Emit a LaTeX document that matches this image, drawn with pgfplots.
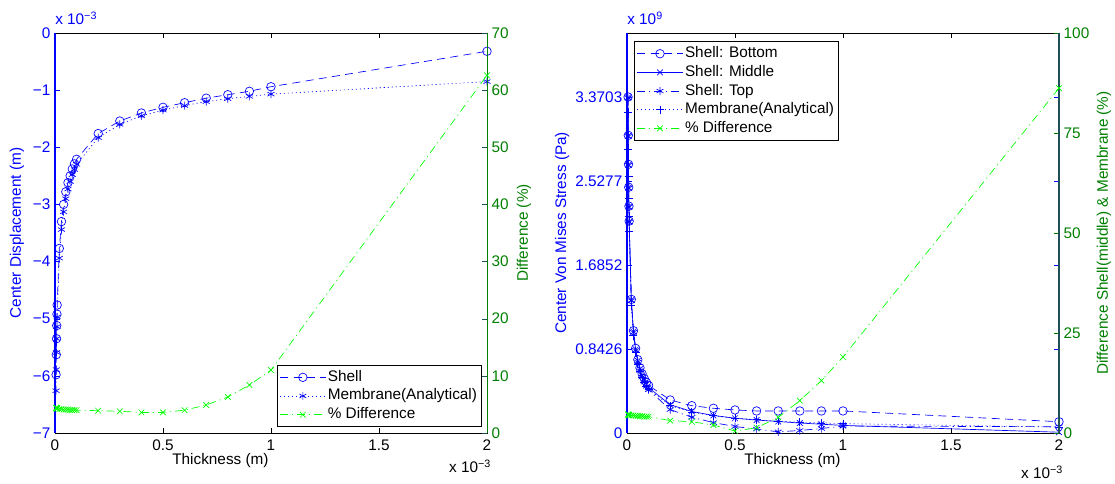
\documentclass[border=0pt]{standalone}
\usepackage{fontspec}
\setmainfont{Liberation Sans}
\usepackage{pgfplots}
\pgfplotsset{compat=1.18}
\definecolor{mblue}{rgb}{0,0,1}
\definecolor{mgreen}{rgb}{0,1,0}
\definecolor{dgreen}{rgb}{0,0.5,0}
\definecolor{tealax}{RGB}{30,80,90}
\tikzset{
  mdashed/.style={dash pattern=on 6pt off 4pt},
  mdotted/.style={dash pattern=on 0.8pt off 2.2pt},
  mdashdot/.style={dash pattern=on 6pt off 3pt on 0.8pt off 3pt},
}
\newcommand{\mfont}{\fontsize{11.5}{13.8}\selectfont}
\pgfplotsset{
  mstyle/.style={
    scale only axis, width=324pt, height=300pt,
    clip=false, scaled ticks=false,
    tick align=inside, major tick length=4pt,
    xmin=0, xmax=2,
    ticklabel style={font=\mfont},
    xticklabel style={yshift=-1.5pt},
    label style={font=\mfont},
    axis line style={-},
    every axis plot/.append style={line width=0.5pt},
  },
  mleg/.style={
    legend cell align=left,
    legend style={font=\mfont, draw=black, fill=white, line width=0.5pt,
      row sep=0pt, inner sep=2pt,
      nodes={inner sep=1.5pt, text height=8.5pt, text depth=2.5pt}},
    legend image code/.code={\draw[mark repeat=2,mark phase=2,##1] plot coordinates {(0pt,0pt) (17pt,0pt) (34pt,0pt)};},
  },
}
\begin{document}
\begin{tikzpicture}
\path[use as bounding box] (-41.25pt,-38.25pt) rectangle (795pt,324.75pt);

% ================= LEFT PANEL =================
\begin{axis}[mstyle, at={(0pt,0pt)}, anchor=south west,
  ymin=-7, ymax=0,
  ytick={-7,-6,-5,-4,-3,-2,-1,0},
  yticklabels={−7,−6,−5,−4,−3,−2,−1,0},
  xtick={0,0.5,1,1.5,2}, xticklabels={0,0.5,1,1.5,2},
  yticklabel style={text=mblue},
  y tick style={mblue}, x tick style={black},
  ylabel={Center Displacement (m)},
  ylabel style={text=mblue, at={(axis description cs:-0.088,0.5)}, anchor=center},
  xlabel={Thickness (m)},
  xlabel style={at={(axis description cs:0.383,-0.07)}, anchor=center},
]
\addplot[mblue, mdashed, mark=o, mark size=3.2pt, mark options={solid}] coordinates {
(0.005,-5.98) (0.006,-5.63) (0.007,-5.35) (0.008,-5.12) (0.009,-4.92) (0.01,-4.76)
(0.02,-3.77) (0.03,-3.30) (0.04,-3.00) (0.05,-2.78) (0.06,-2.62) (0.07,-2.50)
(0.08,-2.38) (0.09,-2.29) (0.1,-2.21) (0.2,-1.76) (0.3,-1.54) (0.4,-1.40)
(0.5,-1.30) (0.6,-1.22) (0.7,-1.14) (0.8,-1.08) (0.9,-1.02) (1.0,-0.94) (2.0,-0.32)};
\addplot[mblue, mdotted, mark=asterisk, mark size=3pt, mark options={solid}] coordinates {
(0.005,-6.26) (0.006,-5.89) (0.007,-5.59) (0.008,-5.35) (0.009,-5.14) (0.01,-4.97)
(0.02,-3.94) (0.03,-3.44) (0.04,-3.13) (0.05,-2.90) (0.06,-2.73) (0.07,-2.60)
(0.08,-2.48) (0.09,-2.39) (0.1,-2.30) (0.2,-1.83) (0.3,-1.60) (0.4,-1.45)
(0.5,-1.35) (0.6,-1.27) (0.7,-1.20) (0.8,-1.15) (0.9,-1.11) (1.0,-1.07) (2.0,-0.85)};
\draw[mblue, line width=0.8pt] (rel axis cs:0,0) -- (rel axis cs:0,1);
\node[anchor=base west, font=\mfont, text=mblue, inner sep=0pt] at (axis description cs:0,1.02) {x 10\textsuperscript{−3}};
\node[anchor=base east, font=\mfont, inner sep=0pt] at (axis description cs:1.01,-0.1) {x 10\textsuperscript{−3}};
\end{axis}

\begin{axis}[mstyle, mleg, at={(0pt,0pt)}, anchor=south west,
  axis x line=none, axis y line*=right,
  every outer y axis line/.append style={dgreen, line width=0.6pt, -},
  ymin=0, ymax=70,
  ytick={0,10,20,30,40,50,60,70},
  yticklabels={0,10,20,30,40,50,60,70},
  yticklabel style={text=dgreen},
  y tick style={tealax},
  ylabel={Difference (\%)},
  ylabel style={text=dgreen, at={(axis description cs:1.0856,0.5)}, anchor=center},
  legend style={at={(0.9884,0.015)}, anchor=south east},
]
\addlegendimage{mblue, mdashed, mark=o, mark size=3.2pt, mark options={solid}}
\addlegendentry{Shell}
\addlegendimage{mblue, mdotted, mark=asterisk, mark size=3pt, mark options={solid}}
\addlegendentry{Membrane(Analytical)}
\addplot[mgreen, mdashdot, mark=x, mark size=3pt, mark options={solid}] coordinates {
(0.005,4.4) (0.006,4.4) (0.007,4.3) (0.008,4.3) (0.009,4.3) (0.01,4.3)
(0.02,4.2) (0.03,4.2) (0.04,4.1) (0.05,4.1) (0.06,4.1) (0.07,4.0)
(0.08,4.0) (0.09,4.0) (0.1,4.0) (0.2,3.9) (0.3,3.8) (0.4,3.6)
(0.5,3.6) (0.6,4.0) (0.7,4.9) (0.8,6.3) (0.9,8.4) (1.0,11.0) (2.0,62.6)};
\addlegendentry{\% Difference}
\end{axis}

% ================= RIGHT PANEL =================
\begin{axis}[mstyle, at={(429pt,0pt)}, anchor=south west,
  ymin=0, ymax=4.012,
  ytick={0,0.8426,1.6852,2.5277,3.3703},
  yticklabels={0,0.8426,1.6852,2.5277,3.3703},
  xtick={0,0.5,1,1.5,2}, xticklabels={0,0.5,1,1.5,2},
  yticklabel style={text=mblue},
  y tick style={mblue}, x tick style={black},
  ylabel={Center Von Mises Stress (Pa)},
  ylabel style={text=mblue, at={(axis description cs:-0.150,0.5)}, anchor=center},
  xlabel={Thickness (m)},
  xlabel style={at={(axis description cs:0.383,-0.07)}, anchor=center},
]
\addplot[mblue, mdashed, mark=o, mark size=3.2pt, mark options={solid}] coordinates {
(0.005,3.3703) (0.006,2.985) (0.007,2.695) (0.008,2.465) (0.009,2.275) (0.01,2.125)
(0.02,1.340) (0.03,1.026) (0.04,0.849) (0.05,0.735) (0.06,0.654) (0.07,0.593)
(0.08,0.546) (0.09,0.508) (0.1,0.477) (0.2,0.331) (0.3,0.274) (0.4,0.248)
(0.5,0.231) (0.6,0.221) (0.7,0.221) (0.8,0.221) (0.9,0.221) (1.0,0.221) (2.0,0.113)};
\addplot[mblue, solid, mark=x, mark size=3pt] coordinates {
(0.005,3.366) (0.006,2.980) (0.007,2.690) (0.008,2.460) (0.009,2.270) (0.01,2.120)
(0.02,1.334) (0.03,1.018) (0.04,0.839) (0.05,0.723) (0.06,0.640) (0.07,0.577)
(0.08,0.528) (0.09,0.488) (0.1,0.455) (0.2,0.283) (0.3,0.216) (0.4,0.176)
(0.5,0.148) (0.6,0.130) (0.7,0.115) (0.8,0.100) (0.9,0.088) (1.0,0.076) (2.0,0.008)};
\addplot[mblue, mdashdot, mark=asterisk, mark size=3pt, mark options={solid}] coordinates {
(0.005,3.362) (0.006,2.975) (0.007,2.685) (0.008,2.455) (0.009,2.265) (0.01,2.115)
(0.02,1.328) (0.03,1.010) (0.04,0.829) (0.05,0.711) (0.06,0.626) (0.07,0.561)
(0.08,0.510) (0.09,0.468) (0.1,0.433) (0.2,0.235) (0.3,0.158) (0.4,0.104)
(0.5,0.065) (0.6,0.039) (0.7,0.012) (0.8,0.025) (0.9,0.045) (1.0,0.069) (2.0,0.063)};
\addplot[mblue, mdotted, mark=+, mark size=3pt, mark options={solid}] coordinates {
(0.005,3.218) (0.006,2.850) (0.007,2.572) (0.008,2.353) (0.009,2.175) (0.01,2.027)
(0.02,1.277) (0.03,0.975) (0.04,0.804) (0.05,0.693) (0.06,0.614) (0.07,0.554)
(0.08,0.507) (0.09,0.469) (0.1,0.437) (0.2,0.275) (0.3,0.210) (0.4,0.173)
(0.5,0.149) (0.6,0.132) (0.7,0.119) (0.8,0.109) (0.9,0.101) (1.0,0.094) (2.0,0.059)};
\draw[mblue, line width=0.8pt] (rel axis cs:0,0) -- (rel axis cs:0,1);
\node[anchor=base west, font=\mfont, text=mblue, inner sep=0pt] at (axis description cs:0,1.02) {x 10\textsuperscript{9}};
\node[anchor=base east, font=\mfont, inner sep=0pt] at (axis description cs:1.01,-0.115) {x 10\textsuperscript{−3}};
\end{axis}

\begin{axis}[mstyle, mleg, at={(429pt,0pt)}, anchor=south west,
  axis x line=none, axis y line*=right,
  every outer y axis line/.append style={tealax, line width=0.8pt, -},
  ymin=0, ymax=100,
  ytick={0,25,50,75,100},
  yticklabels={0,25,50,75,100},
  yticklabel style={text=dgreen},
  y tick style={dgreen},
  ylabel={Difference Shell(middle) \& Membrane (\%)},
  ylabel style={text=dgreen, at={(axis description cs:1.104,0.5)}, anchor=center},
  legend style={at={(0.0162,0.979)}, anchor=north west},
]
\addlegendimage{mblue, mdashed, mark=o, mark size=3.2pt, mark options={solid}}
\addlegendentry{Shell: Bottom}
\addlegendimage{mblue, solid, mark=x, mark size=3pt}
\addlegendentry{Shell: Middle}
\addlegendimage{mblue, mdashdot, mark=asterisk, mark size=3pt, mark options={solid}}
\addlegendentry{Shell: Top}
\addlegendimage{mblue, mdotted, mark=+, mark size=3pt, mark options={solid}}
\addlegendentry{Membrane(Analytical)}
\addplot[mgreen, mdashdot, mark=x, mark size=3pt, mark options={solid}] coordinates {
(0.005,4.6) (0.006,4.6) (0.007,4.6) (0.008,4.5) (0.009,4.4) (0.01,4.5)
(0.02,4.4) (0.03,4.4) (0.04,4.3) (0.05,4.3) (0.06,4.2) (0.07,4.2)
(0.08,4.1) (0.09,4.1) (0.1,4.1) (0.2,3.1) (0.3,2.8) (0.4,2.0)
(0.5,0.5) (0.6,1.3) (0.7,3.9) (0.8,8.1) (0.9,13.1) (1.0,19.0) (2.0,86.2)};
\addlegendentry{\% Difference}
\end{axis}
\end{tikzpicture}
\end{document}
